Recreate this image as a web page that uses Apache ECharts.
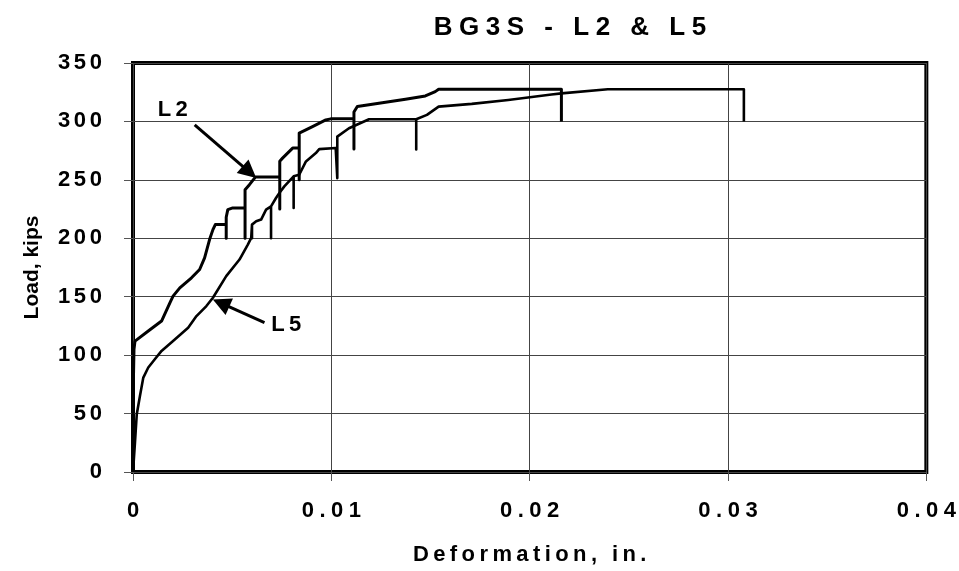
<!DOCTYPE html>
<html>
<head>
<meta charset="utf-8">
<script src="https://cdn.jsdelivr.net/npm/echarts@6/dist/echarts.min.js"></script>
<style>
  html, body { margin: 0; padding: 0; background: #fff; }
  #chart { width: 959px; height: 571px; }
</style>
</head>
<body>
<div id="chart"></div>
<script>
// deformation (in.) and load (kips)
var l2Def = [0, 0, 0.00005, 0.0001, 0.00077, 0.00144, 0.00186, 0.00202, 0.00236, 0.00295, 0.00336, 0.00361,
  0.00386, 0.00403, 0.00415, 0.0047, 0.0047, 0.0047, 0.00478, 0.00503, 0.00565, 0.00565, 0.00565, 0.00587,
  0.00617, 0.0074, 0.0074, 0.0074, 0.00754, 0.00805, 0.00838, 0.00838, 0.00838, 0.00847, 0.00905, 0.00972,
  0.00997, 0.01114, 0.01114, 0.01114, 0.01131, 0.0124, 0.01374, 0.01474, 0.01524, 0.01541, 0.0216, 0.0216];
var l2Load = [0, 60, 105, 112, 120.6, 129.2, 144.8, 150.5, 157.6, 166.2, 173.3, 183.3,
  198.9, 207.4, 211.7, 211.7, 200, 218, 224.5, 226, 226, 200, 241.6, 245.9,
  252.4, 252.4, 225, 266, 268.6, 277.2, 277.2, 250, 290, 290, 295.6, 301.3,
  302.2, 302.2, 276.3, 308, 312.7, 315.6, 319, 321.8, 325.5, 327.5, 327.5, 300];

var l5Def = [0, 0.0001, 0.00019, 0.00035, 0.00052, 0.00077, 0.0011, 0.00144, 0.00202, 0.00278, 0.0032, 0.0037,
  0.00403, 0.0047, 0.00537, 0.00579, 0.00596, 0.006, 0.006, 0.006, 0.00621, 0.00646, 0.00671, 0.00696,
  0.00696, 0.00696, 0.00721, 0.00738, 0.00763, 0.0081, 0.0081, 0.0081, 0.00838, 0.00872, 0.00922, 0.00939,
  0.01022, 0.0103, 0.0103, 0.0103, 0.01089, 0.0119, 0.01428, 0.01428, 0.01428, 0.01482, 0.01541, 0.01708,
  0.01892, 0.0211, 0.0216, 0.02394, 0.0308, 0.0308];
var l5Load = [0, 25.3, 49.5, 65, 80.8, 89.4, 96.5, 103.6, 112.1, 123.5, 133.4, 142,
  149.1, 167.6, 181.8, 194.6, 200.3, 211.7, 200, 211.7, 214.5, 216, 224.5, 227.3,
  200, 227.3, 234.5, 238.8, 244.4, 253, 226, 253, 254.4, 265.8, 272.9, 276.3,
  277.2, 277.2, 251.5, 287, 294.2, 301.9, 301.9, 276, 301.9, 305.6, 312.7, 315,
  318.4, 323, 324, 327.5, 327.5, 300];

var xTicks = ['0', '0.01', '0.02', '0.03', '0.04'];
var yTicks = ['0', '50', '100', '150', '200', '250', '300', '350'];

function zip(xs, ys) {
  var out = [];
  for (var i = 0; i < xs.length; i++) out.push([xs[i], ys[i]]);
  return out;
}

// the original text is set wide, so pad letters with unicode spaces
var SIX = '\u2006', THIN = '\u2009', FOUR = '\u2005';
function spaced(s, gap) {
  return s.split('').join(gap || THIN);
}

var font = '"Liberation Sans", Arial, sans-serif';

var chart = echarts.init(document.getElementById('chart'), null, { renderer: 'canvas' });

var option = {
  animation: false,
  backgroundColor: '#fff',
  title: {
    text: spaced('BG3S - L2 & L5', FOUR),
    left: 565,
    textAlign: 'center',
    top: 10,
    textStyle: { fontFamily: font, fontSize: 26, fontWeight: 'bold', color: '#000' }
  },
  grid: {
    left: 133, right: 29, top: 63, bottom: 98,
    show: true, borderColor: '#000', borderWidth: 4, backgroundColor: 'transparent'
  },
  xAxis: {
    type: 'value',
    min: 0, max: 0.04, interval: 0.01,
    name: spaced('Deformation, in.', THIN),
    nameLocation: 'middle',
    nameGap: 72,
    nameTextStyle: { fontFamily: font, fontSize: 22, fontWeight: 'bold', color: '#000' },
    axisLine: { show: false },
    axisTick: { show: true, length: 9, lineStyle: { color: '#555', width: 1 } },
    axisLabel: {
      margin: 28,
      fontFamily: font, fontSize: 22, fontWeight: 'bold', color: '#000',
      formatter: function (v) { return spaced(xTicks[Math.round(v / 0.01)], FOUR); }
    },
    splitLine: { show: true, lineStyle: { color: '#444', width: 1 } }
  },
  yAxis: {
    type: 'value',
    min: 0, max: 350, interval: 50,
    name: 'Load, kips',
    nameLocation: 'middle',
    nameGap: 90,
    nameTextStyle: { fontFamily: font, fontSize: 21, fontWeight: 'bold', color: '#000' },
    axisLine: { show: false },
    axisTick: { show: true, length: 9, lineStyle: { color: '#555', width: 1 } },
    axisLabel: {
      margin: 31,
      fontFamily: font, fontSize: 22, fontWeight: 'bold', color: '#000',
      formatter: function (v) { return spaced(yTicks[Math.round(v / 50)], SIX); }
    },
    splitLine: { show: true, lineStyle: { color: '#444', width: 1 } }
  },
  series: [
    {
      name: 'L2',
      type: 'line',
      data: zip(l2Def, l2Load),
      symbol: 'none',
      lineStyle: { color: '#000', width: 3, join: 'round' },
      markLine: {
        silent: true,
        symbol: ['none', 'triangle'],
        symbolSize: 18,
        itemStyle: { color: '#000' },
        lineStyle: { color: '#000', width: 3, type: 'solid' },
        label: { show: false },
        data: [[{ coord: [0.00311, 297] }, { coord: [0.00587, 256.6] }]]
      },
      markPoint: {
        silent: true,
        symbol: 'rect', symbolSize: 1,
        itemStyle: { color: 'rgba(0,0,0,0)' },
        label: {
          show: true, position: 'inside', formatter: spaced('L2', THIN),
          fontFamily: font, fontSize: 22, fontWeight: 'bold', color: '#000'
        },
        data: [{ coord: [0.002, 310] }]
      }
    },
    {
      name: 'L5',
      type: 'line',
      data: zip(l5Def, l5Load),
      symbol: 'none',
      lineStyle: { color: '#000', width: 2.6, join: 'round' },
      markLine: {
        silent: true,
        symbol: ['none', 'triangle'],
        symbolSize: 18,
        itemStyle: { color: '#000' },
        lineStyle: { color: '#000', width: 3, type: 'solid' },
        label: { show: false },
        data: [[{ coord: [0.00663, 127.8] }, { coord: [0.00444, 144.5] }]]
      },
      markPoint: {
        silent: true,
        symbol: 'rect', symbolSize: 1,
        itemStyle: { color: 'rgba(0,0,0,0)' },
        label: {
          show: true, position: 'inside', formatter: spaced('L5', THIN),
          fontFamily: font, fontSize: 22, fontWeight: 'bold', color: '#000'
        },
        data: [{ coord: [0.00773, 125.5] }]
      }
    }
  ]
};

chart.setOption(option);
</script>
</body>
</html>
